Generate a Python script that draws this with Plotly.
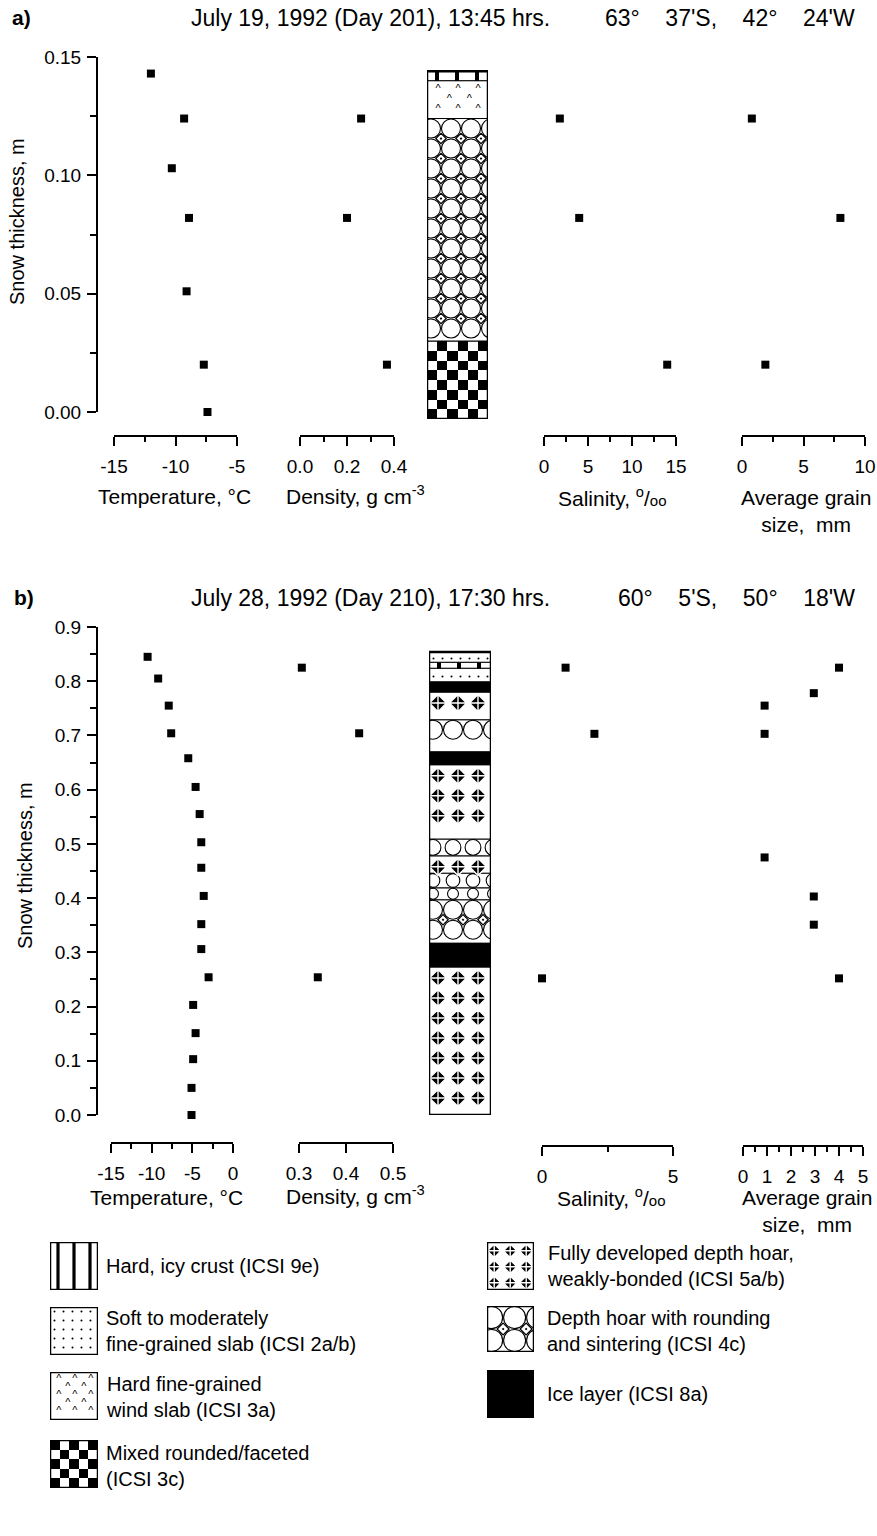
import numpy as np
import plotly.graph_objects as go

# ====================== DATA ======================
# Panel a) July 19, 1992 (Day 201)
a_temp_depth = [0.143, 0.124, 0.103, 0.082, 0.051, 0.020, 0.000]
a_temp = [-12.0, -9.3, -10.3, -8.9, -9.1, -7.7, -7.4]
a_dens_depth = [0.124, 0.082, 0.020]
a_dens = [0.26, 0.20, 0.37]
a_sal_depth = [0.124, 0.082, 0.020]
a_sal = [1.8, 4.0, 14.0]
a_grain_depth = [0.124, 0.082, 0.020]
a_grain = [0.8, 8.0, 1.9]
a_layer_bottom = [-0.003, 0.030, 0.124, 0.140]
a_layer_top = [0.030, 0.124, 0.140, 0.144]
a_layer_type = ["3c", "4c", "3a", "9e"]

# Panel b) July 28, 1992 (Day 210)
b_temp_depth = [0.845, 0.805, 0.755, 0.704, 0.658, 0.605, 0.555, 0.503, 0.456,
                0.404, 0.352, 0.306, 0.254, 0.203, 0.151, 0.103, 0.050, 0.000]
b_temp = [-10.5, -9.2, -7.9, -7.6, -5.5, -4.6, -4.1, -3.9, -3.9,
          -3.6, -3.9, -3.9, -3.0, -4.9, -4.6, -4.9, -5.1, -5.1]
b_dens_depth = [0.825, 0.704, 0.254]
b_dens = [0.306, 0.428, 0.340]
b_sal_depth = [0.825, 0.703, 0.252]
b_sal = [0.9, 2.0, 0.0]
b_grain_depth = [0.825, 0.778, 0.755, 0.703, 0.475, 0.403, 0.351, 0.252]
b_grain = [4.0, 2.95, 0.9, 0.9, 0.9, 2.95, 2.95, 4.0]
b_layer_bottom = [0.000, 0.273, 0.317, 0.397, 0.419, 0.446, 0.478, 0.509,
                  0.646, 0.670, 0.729, 0.780, 0.799, 0.824, 0.835]
b_layer_top = [0.273, 0.317, 0.397, 0.419, 0.446, 0.478, 0.509, 0.646,
               0.670, 0.729, 0.780, 0.799, 0.824, 0.835, 0.854]
b_layer_type = ["5ab", "8a", "4c", "4c", "4c", "5ab", "4c", "5ab",
                "8a", "4c", "5ab", "8a", "2ab", "9e", "2ab"]

# Tick values / labels
a_temp_ticks = [-15, -10, -5]
a_temp_labels = ["-15", "-10", "-5"]
a_temp_minor = [-12.5, -7.5]
a_dens_ticks = [0.0, 0.2, 0.4]
a_dens_labels = ["0.0", "0.2", "0.4"]
a_dens_minor = [0.1, 0.3]
a_sal_ticks = [0, 5, 10, 15]
a_sal_minor = [2.5, 7.5, 12.5]
a_grain_ticks = [0, 5, 10]
a_grain_minor = [2.5, 7.5]
b_temp_ticks = [-15, -10, -5, 0]
b_temp_labels = ["-15", "-10", "-5", "0"]
b_temp_minor = [-12.5, -7.5, -2.5]
b_dens_ticks = [0.3, 0.4, 0.5]
b_dens_labels = ["0.3", "0.4", "0.5"]
b_sal_ticks = [0, 5]
b_sal_minor = [2.5]
b_grain_ticks = [0, 1, 2, 3, 4, 5]
b_grain_minor = [0.5, 1.5, 2.5, 3.5, 4.5]

# Legend
legend_types = ["9e", "2ab", "3a", "3c", "5ab", "4c", "8a"]
legend_labels = [
    "Hard, icy crust (ICSI 9e)",
    "Soft to moderately<br>fine-grained slab (ICSI 2a/b)",
    "Hard fine-grained<br>wind slab (ICSI 3a)",
    "Mixed rounded/faceted<br>(ICSI 3c)",
    "Fully developed depth hoar,<br>weakly-bonded (ICSI 5a/b)",
    "Depth hoar with rounding<br>and sintering (ICSI 4c)",
    "Ice layer (ICSI 8a)",
]

# ====================== GEOMETRY / STYLE ======================
W, H = 877, 1536
FONT = "Liberation Sans, Arial, Helvetica, sans-serif"
TICKFONT = dict(family=FONT, size=19, color="black")


def fx(px):
    return px / W


def fy(py):
    return 1 - py / H


# panel a vertical scale
A_TOP_PX, A_BOT_PX, A_RANGE = 57, 412, [0, 0.15]
A_PPU = (A_BOT_PX - A_TOP_PX) / (A_RANGE[1] - A_RANGE[0])
# panel b vertical scale
B_TOP_PX, B_BOT_PX, B_RANGE = 627, 1115, [0, 0.9]
B_PPU = (B_BOT_PX - B_TOP_PX) / (B_RANGE[1] - B_RANGE[0])

fig = go.Figure()
layout = dict(
    width=W, height=H, margin=dict(l=0, r=0, t=0, b=0), template="none",
    paper_bgcolor="white", plot_bgcolor="white", showlegend=False,
    barmode="overlay", hovermode=False, font=dict(family=FONT, color="black"),
)


def bottom_axis(dom, rng, pos_py, ticks, labels=None, minor=None):
    d = dict(
        domain=[fx(dom[0]), fx(dom[1])], range=rng, anchor="free",
        position=fy(pos_py), side="bottom", showline=True, linecolor="black",
        linewidth=2, ticks="outside", ticklen=9, tickwidth=2, tickcolor="black",
        tickmode="array", tickvals=ticks, tickfont=TICKFONT, showgrid=False,
        zeroline=False, fixedrange=True, ticklabelstandoff=4,
    )
    if labels is not None:
        d["ticktext"] = labels
    if minor:
        d["minor"] = dict(tickmode="array", tickvals=minor, ticks="outside",
                          ticklen=5, tickwidth=2, tickcolor="black", showgrid=False)
    return d


def left_axis(top_px, bot_px, rng, dtick, fmt, minor_dtick):
    return dict(
        domain=[fy(bot_px), fy(top_px)], range=rng, anchor="free", position=fx(97),
        side="left", showline=True, linecolor="black", linewidth=2,
        ticks="outside", ticklen=9, tickwidth=2, tickcolor="black",
        tick0=0, dtick=dtick, tickformat=fmt, tickfont=TICKFONT,
        showgrid=False, zeroline=False, fixedrange=True, ticklabelstandoff=2,
        minor=dict(tick0=0, dtick=minor_dtick, ticks="outside", ticklen=6,
                   tickwidth=2, tickcolor="black", showgrid=False),
    )


def hidden_axis(dom, rng, anchor):
    return dict(domain=dom, range=rng, visible=False, anchor=anchor,
                fixedrange=True, showgrid=False, zeroline=False)


def add_points(xs, ys, xa, ya):
    fig.add_trace(go.Scatter(
        x=xs, y=ys, xaxis=xa, yaxis=ya, mode="markers", cliponaxis=False,
        marker=dict(symbol="square", size=8, color="black"),
        hoverinfo="skip", showlegend=False))


def add_layer(xa, ya, b, t, kind, w_px, ppu, step, phase=0):
    """step: dict of pattern spacing (px) per layer kind."""
    s = step[kind]
    h_px = (t - b) * ppu
    base = dict(xaxis=xa, yaxis=ya, hoverinfo="skip", showlegend=False)
    line = dict(color="black", width=1)
    if kind == "3c":
        ncol = max(2, int(round(w_px / s)))
        nrow = max(1, int(round(h_px / (w_px / ncol))))
        xe = np.linspace(0, 1, ncol + 1)
        ye = np.linspace(b, t, nrow + 1)
        z = [[(i + j + nrow - 1 + phase) % 2 for j in range(ncol)] for i in range(nrow)]
        fig.add_trace(go.Heatmap(x=xe, y=ye, z=z, zmin=0, zmax=1,
                                 colorscale=[[0, "white"], [1, "black"]],
                                 showscale=False, **base))
        marker = dict(color="rgba(0,0,0,0)", line=line)
    elif kind == "8a":
        marker = dict(color="black", line=line)
    elif kind == "9e":
        marker = dict(color="white", line=line,
                      pattern=dict(shape="|", size=s, solidity=0.2,
                                   fgcolor="black", bgcolor="white"))
    elif kind == "2ab":
        marker = dict(color="white", line=line,
                      pattern=dict(shape=".", size=s, solidity=0.04,
                                   fgcolor="black", bgcolor="white"))
    else:
        marker = dict(color="white", line=line)
    fig.add_trace(go.Bar(x=[0.5], y=[t - b], base=[b], width=[1.0],
                         marker=marker, **base))

    def xo(off):
        return off / w_px

    def yo(off):
        return t - off / ppu

    nx = int(w_px // s) + 2
    if kind == "4c":
        r = s / 2
        x0 = s * 0.2
        if h_px >= s - 2:
            rows, off = [], r
            while off <= h_px - r + 3:
                rows.append(off)
                off += s
            size = s - 1
        else:
            rows, size = [h_px / 2], max(h_px - 1, 4)
        cx = [xo(x0 + s * k) for k in range(-1, nx)]
        fig.add_trace(go.Scatter(
            x=[c for _ in rows for c in cx], y=[yo(rw) for rw in rows for _ in cx],
            mode="markers", marker=dict(symbol="circle-open", size=size, color="black",
                                        line=dict(width=1.1)), **base))
        drows = [rows[i] + r for i in range(len(rows) - 1)]
        if drows:
            dx = [xo(x0 + r + s * k) for k in range(-1, nx)]
            fig.add_trace(go.Scatter(
                x=[c for _ in drows for c in dx], y=[yo(rw) for rw in drows for _ in dx],
                mode="markers", marker=dict(symbol="diamond-open-dot", size=s * 0.4,
                                            color="black", line=dict(width=1.2)), **base))
    elif kind == "5ab":
        size = s * 0.66
        rows, off = [], s * 0.55
        while off <= h_px - s * 0.3:
            rows.append(off)
            off += s
        if not rows:
            rows, size = [h_px / 2], min(size, max(h_px - 1, 4))
        cx = [xo(s * 0.45 + s * k) for k in range(-1, nx)]
        fig.add_trace(go.Scatter(
            x=[c for _ in rows for c in cx], y=[yo(rw) for rw in rows for _ in cx],
            mode="markers", marker=dict(symbol="diamond-cross", size=size, color="black",
                                        line=dict(width=1.4, color="white")), **base))
    elif kind == "3a":
        rows, off = [], s * 0.45
        while off <= h_px - 4:
            rows.append(off)
            off += s / 2
        xs, ys = [], []
        for i, rw in enumerate(rows):
            sh = s * 0.55 if i % 2 == 0 else s * 0.12
            for k in range(0, nx):
                xx = sh + s * k
                if 4 <= xx <= w_px - 4:
                    xs.append(xo(xx))
                    ys.append(yo(rw))
        fig.add_trace(go.Scatter(
            x=xs, y=ys, mode="text", text=["^"] * len(xs),
            textfont=dict(family=FONT, size=11, color="black"), **base))


def add_column(xa, ya, bottoms, tops, kinds, w_px, ppu, step, phase=0):
    for b, t, k in zip(bottoms, tops, kinds):
        add_layer(xa, ya, b, t, k, w_px, ppu, step, phase)
    fig.add_shape(type="rect", xref=xa, yref=ya, x0=0, x1=1, y0=min(bottoms),
                  y1=max(tops), line=dict(color="black", width=2.5), layer="above")


COL_STEP = {"9e": 20, "2ab": 9, "3a": 20, "3c": 10, "4c": 20, "5ab": 20, "8a": 20}
LEG_STEP = {"9e": 16, "2ab": 9, "3a": 16, "3c": 9.6, "4c": 23, "5ab": 16, "8a": 16}

# ---------------- Panel a ----------------
layout["yaxis"] = left_axis(A_TOP_PX, A_BOT_PX, A_RANGE, 0.05, ".2f", 0.025)
layout["xaxis"] = bottom_axis((114, 237), [-15, -5], 436, a_temp_ticks, a_temp_labels, a_temp_minor)
layout["xaxis2"] = bottom_axis((300, 394), [0, 0.4], 436, a_dens_ticks, a_dens_labels, a_dens_minor)
layout["xaxis4"] = bottom_axis((544, 676), [0, 15], 436, a_sal_ticks, minor=a_sal_minor)
layout["xaxis5"] = bottom_axis((742, 865), [0, 10], 436, a_grain_ticks, minor=a_grain_minor)
# column a (own hidden y axis with same scale, slightly extended below 0)
a_col_bot = min(a_layer_bottom)
a_col_bot_px = A_BOT_PX - a_col_bot * A_PPU
layout["xaxis3"] = hidden_axis([fx(427), fx(488)], [0, 1], "y2")
layout["yaxis2"] = hidden_axis([fy(a_col_bot_px), fy(A_TOP_PX)], [a_col_bot, A_RANGE[1]], "x3")

add_points(a_temp, a_temp_depth, "x", "y")
add_points(a_dens, a_dens_depth, "x2", "y")
add_points(a_sal, a_sal_depth, "x4", "y")
add_points(a_grain, a_grain_depth, "x5", "y")
add_column("x3", "y2", a_layer_bottom, a_layer_top, a_layer_type, 61, A_PPU, COL_STEP)

# ---------------- Panel b ----------------
layout["yaxis3"] = left_axis(B_TOP_PX, B_BOT_PX, B_RANGE, 0.1, ".1f", 0.05)
layout["xaxis6"] = bottom_axis((111, 233), [-15, 0], 1143, b_temp_ticks, b_temp_labels, b_temp_minor)
layout["xaxis7"] = bottom_axis((299, 393), [0.3, 0.5], 1143, b_dens_ticks, b_dens_labels)
layout["xaxis8"] = hidden_axis([fx(429), fx(491)], [0, 1], "y3")
layout["xaxis9"] = bottom_axis((542, 673), [0, 5], 1146, b_sal_ticks, minor=b_sal_minor)
layout["xaxis10"] = bottom_axis((743, 863), [0, 5], 1146, b_grain_ticks, minor=b_grain_minor)

add_points(b_temp, b_temp_depth, "x6", "y3")
add_points(b_dens, b_dens_depth, "x7", "y3")
add_points(b_sal, b_sal_depth, "x9", "y3")
add_points(b_grain, b_grain_depth, "x10", "y3")
add_column("x8", "y3", b_layer_bottom, b_layer_top, b_layer_type, 62, B_PPU, COL_STEP)

# ---------------- Legend swatches ----------------
legend_boxes = [(50, 1242, 98, 1290), (50, 1307, 98, 1355), (50, 1372, 98, 1420),
                (50, 1440, 98, 1488), (487, 1242, 534, 1290), (487, 1306, 534, 1352),
                (487, 1370, 534, 1418)]
legend_text_pos = [(104, 1266), (104, 1331), (104, 1397), (104, 1466),
                   (545, 1266), (545, 1331), (545, 1394)]
for i, (kind, box) in enumerate(zip(legend_types, legend_boxes)):
    xi, yi = 11 + i, 4 + i
    x0, y0, x1, y1 = box
    layout[f"xaxis{xi}"] = hidden_axis([fx(x0), fx(x1)], [0, 1], f"y{yi}")
    layout[f"yaxis{yi}"] = hidden_axis([fy(y1), fy(y0)], [0, 1], f"x{xi}")
    add_column(f"x{xi}", f"y{yi}", [0.0], [1.0], [kind], x1 - x0, y1 - y0, LEG_STEP, phase=1)

# ---------------- Text ----------------
annotations = []


def ann(text, x, y, size, xanchor="center", yanchor="middle", angle=0, align="center"):
    annotations.append(dict(
        text=text, x=fx(x), y=fy(y), xref="paper", yref="paper", showarrow=False,
        xanchor=xanchor, yanchor=yanchor, textangle=angle, align=align,
        font=dict(family=FONT, size=size, color="black")))


NB = "\u00a0" * 4
ann("<b>a)</b>", 10, 17, 21, xanchor="left")
ann("July 19, 1992 (Day 201), 13:45 hrs.", 189, 18, 23, xanchor="left")
ann(f"63°{NB}37'S,{NB}42°{NB}24'W", 857, 18, 23, xanchor="right")
ann("<b>b)</b>", 12, 597, 21, xanchor="left")
ann("July 28, 1992 (Day 210), 17:30 hrs.", 189, 598, 23, xanchor="left")
ann(f"60°{NB}5'S,{NB}50°{NB}18'W", 857, 598, 23, xanchor="right")

ann("Snow thickness, m", 17, 222, 20, angle=-90)
ann("Snow thickness, m", 25, 866, 20, angle=-90)

SAL = "Salinity, <sup>o</sup>/<span style='font-size:15px'>oo</span>"
for yb, xs in ((497, (174, 355, 612, 806)), (1197, (166, 355, 611, 807))):
    ann("Temperature, °C", xs[0], yb, 21)
    ann("Density, g cm<sup>-3</sup>", xs[1], yb - 2, 21)
    ann(SAL, xs[2], yb, 21)
    ann("Average grain<br>size,  mm", xs[3], yb - 13, 21, yanchor="top")

for label, (tx, ty) in zip(legend_labels, legend_text_pos):
    ann(label, tx, ty, 20, xanchor="left", align="left")

layout["annotations"] = annotations
fig.update_layout(**layout)
fig.write_html("out.html", config={"displayModeBar": False, "staticPlot": True})
